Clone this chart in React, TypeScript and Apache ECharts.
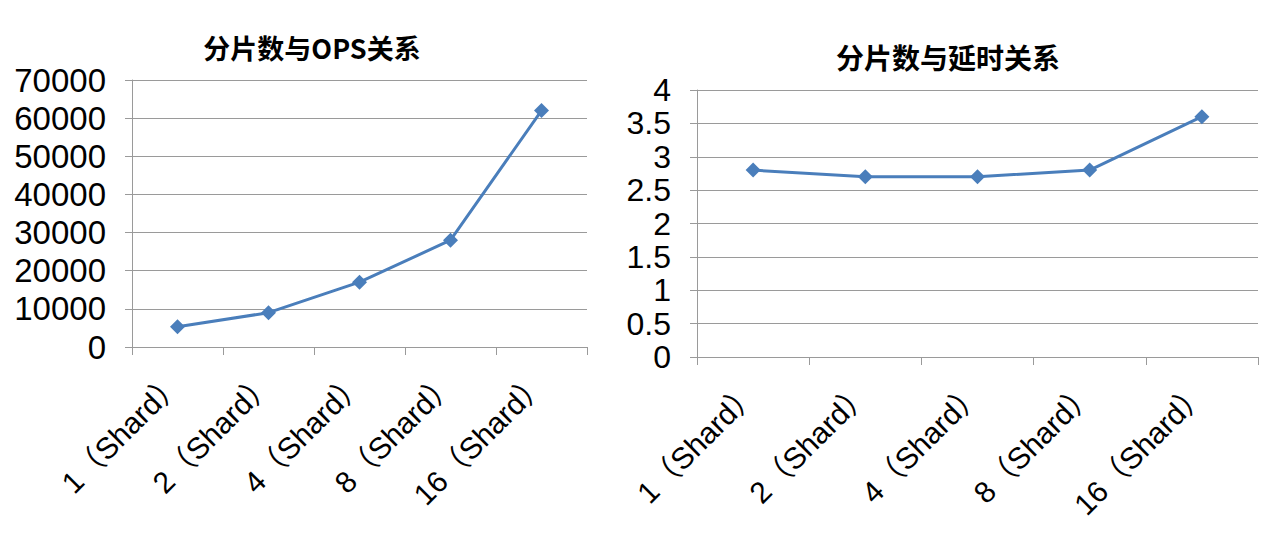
import React, { useEffect, useRef } from "react";
import * as echarts from "echarts";

const categories = ["1（Shard）", "2（Shard）", "4（Shard）", "8（Shard）", "16（Shard）"];
const opsValues = [5300, 9000, 17000, 28000, 62000];
const latencyValues = [2.8, 2.7, 2.7, 2.8, 3.6];
const titleOps = "分片数与OPS关系";
const titleLatency = "分片数与延时关系";

const LINE_COLOR = "#4A7EBB";
const GRID_COLOR = "#9a9a9a";
const LATIN = "'Liberation Sans', Arial, 'Noto Sans CJK SC', sans-serif";
const CJK = "'Noto Sans CJK SC', sans-serif";

export default function App() {
  const ref = useRef<HTMLDivElement>(null);
  useEffect(() => {
    if (!ref.current) return;
    const chart = echarts.init(ref.current, undefined, { renderer: "svg" });
    const xAxisCommon = (gridIndex: number) => ({
      type: "category" as const,
      gridIndex,
      data: categories,
      boundaryGap: true,
      axisLine: { show: true, lineStyle: { color: GRID_COLOR, width: 1 } },
      axisTick: { show: true, length: 8, lineStyle: { color: GRID_COLOR } },
      axisLabel: {
        rotate: 45,
        margin: 30,
        fontSize: 30,
        color: "#000",
        fontFamily: LATIN,
        interval: 0,
      },
      splitLine: { show: false },
    });
    const yAxisCommon = (gridIndex: number, max: number, interval: number, fontSize: number) => ({
      type: "value" as const,
      gridIndex,
      min: 0,
      max,
      interval,
      axisLine: { show: true, lineStyle: { color: GRID_COLOR, width: 1 } },
      axisTick: { show: true, length: 7, lineStyle: { color: GRID_COLOR } },
      axisLabel: {
        fontSize,
        lineHeight: 28,
        color: "#000",
        fontFamily: LATIN,
        margin: 26,
        formatter: (v: number) => String(v),
      },
      splitLine: { show: true, lineStyle: { color: GRID_COLOR, width: 1 } },
    });
    const seriesCommon = {
      type: "line" as const,
      symbol: "diamond",
      symbolSize: 15,
      lineStyle: { color: LINE_COLOR, width: 3 },
      itemStyle: { color: LINE_COLOR },
    };
    chart.setOption({
      animation: false,
      backgroundColor: "#fff",
      title: [
        {
          text: titleOps,
          left: 307,
          top: 29,
          textAlign: "center",
          textStyle: { fontFamily: CJK, fontWeight: "bold", fontSize: 27, color: "#000" },
        },
        {
          text: titleLatency,
          left: 943,
          top: 38,
          textAlign: "center",
          textStyle: { fontFamily: CJK, fontWeight: "bold", fontSize: 28, color: "#000" },
        },
      ],
      grid: [
        { left: 132, right: 693, top: 80, bottom: 198 },
        { left: 697, right: 22, top: 90, bottom: 188 },
      ],
      xAxis: [xAxisCommon(0), xAxisCommon(1)],
      yAxis: [yAxisCommon(0, 70000, 10000, 33), yAxisCommon(1, 4, 0.5, 32)],
      series: [
        { ...seriesCommon, xAxisIndex: 0, yAxisIndex: 0, data: opsValues },
        { ...seriesCommon, xAxisIndex: 1, yAxisIndex: 1, data: latencyValues },
      ],
    });
    return () => chart.dispose();
  }, []);
  return (
    <div
      ref={ref}
      style={{ position: "fixed", left: 0, top: 0, width: 1280, height: 545, background: "#fff" }}
    />
  );
}
